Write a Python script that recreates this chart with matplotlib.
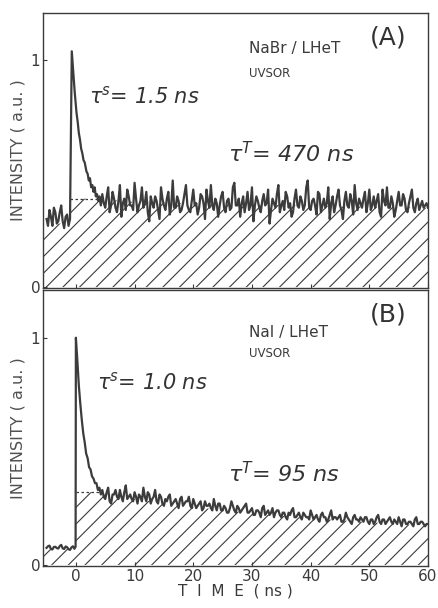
import numpy as np
import matplotlib
matplotlib.use("Agg")
import matplotlib.pyplot as plt

plt.rcParams['font.family'] = ['DejaVu Sans']
plt.rcParams['hatch.linewidth'] = 0.8
plt.rcParams['hatch.color'] = '#333333'

# ---- panel A : NaBr / LHeT ----
a_t = [-5.0, -4.75, -4.5, -4.25, -4.0, -3.75, -3.5, -3.25, -3.0, -2.75, -2.5,
       -2.25, -2.0, -1.75, -1.5, -1.25, -1.0,
       -0.7, -0.4, -0.2, 0.1, 0.3, 0.5, 0.7, 0.9, 1.1, 1.3, 1.5, 1.8,
       2.0, 2.2, 2.4, 2.6, 2.8, 3.0, 3.2, 3.4, 3.6, 3.8, 4.0, 4.25]
a_i = [0.30, 0.27, 0.34, 0.31, 0.27, 0.35, 0.33, 0.28, 0.29, 0.33, 0.36,
       0.29, 0.26, 0.31, 0.32, 0.27, 0.30,
       1.04, 0.93, 0.86, 0.77, 0.73, 0.68, 0.65, 0.61, 0.59, 0.56, 0.55, 0.51,
       0.50, 0.47, 0.48, 0.44, 0.45, 0.42, 0.44, 0.40, 0.41, 0.38, 0.40, 0.36]
a_tail = [
    0.41, 0.35, 0.44, 0.36, 0.39, 0.33, 0.45, 0.37, 0.34, 0.40,
    0.36, 0.46, 0.33, 0.38, 0.35, 0.42, 0.29, 0.37, 0.40, 0.34,
    0.44, 0.36, 0.39, 0.32, 0.47, 0.35, 0.38, 0.34, 0.41, 0.36,
    0.33, 0.43, 0.37, 0.35, 0.40, 0.30, 0.38, 0.45, 0.34, 0.37,
    0.36, 0.42, 0.33, 0.39, 0.35, 0.46, 0.36, 0.31, 0.40, 0.37,
    0.34, 0.44, 0.36, 0.38, 0.33, 0.41, 0.37, 0.28, 0.39, 0.35,
    0.45, 0.36, 0.34, 0.40, 0.37, 0.33, 0.43, 0.35, 0.38, 0.36,
    0.47, 0.34, 0.39, 0.32, 0.41, 0.36, 0.35, 0.44, 0.37, 0.33,
    0.40, 0.36, 0.30, 0.42, 0.35, 0.38, 0.45, 0.34, 0.37, 0.39,
    0.33, 0.43, 0.36, 0.35, 0.41, 0.31, 0.38, 0.44, 0.35, 0.37,
    0.34, 0.42, 0.36, 0.39, 0.33, 0.40, 0.35, 0.37, 0.34, 0.38,
    0.36, 0.35]
a_tail_mid = [
    0.37, 0.40, 0.33, 0.42, 0.35, 0.38, 0.31, 0.39, 0.43, 0.36,
    0.34, 0.39, 0.36, 0.44, 0.37, 0.33, 0.40, 0.35, 0.38, 0.30,
    0.39, 0.34, 0.42, 0.36, 0.35, 0.40, 0.33, 0.37, 0.45, 0.34,
    0.38, 0.36, 0.32, 0.41, 0.37, 0.43, 0.35, 0.36, 0.39, 0.31,
    0.40, 0.35, 0.38, 0.34, 0.44, 0.36, 0.39, 0.37, 0.33, 0.42,
    0.36, 0.29, 0.40, 0.35, 0.38, 0.36, 0.43, 0.34, 0.37, 0.41,
    0.33, 0.38, 0.42, 0.35, 0.31, 0.39, 0.36, 0.40, 0.34, 0.44,
    0.35, 0.38, 0.36, 0.42, 0.33, 0.39, 0.37, 0.30, 0.40, 0.36,
    0.43, 0.34, 0.38, 0.36, 0.41, 0.32, 0.37, 0.39, 0.35, 0.42,
    0.37, 0.34, 0.40, 0.38, 0.33, 0.43, 0.36, 0.35, 0.40, 0.31,
    0.38, 0.36, 0.41, 0.34, 0.37, 0.43, 0.33, 0.39, 0.36, 0.35,
    0.37]
# hatched (triplet) component, A
a_fit_t = [-5.6, -1.0, -1.0, 3.6, 10, 20, 30, 40, 50, 60]
a_fit_i = [0.28, 0.28, 0.39, 0.39, 0.375, 0.37, 0.365, 0.36, 0.355, 0.35]

# ---- panel B : NaI / LHeT ----
b_t = [-5.0, -4.75, -4.5, -4.25, -4.0, -3.75, -3.5, -3.25, -3.0, -2.75, -2.5,
       -2.25, -2.0, -1.75, -1.5, -1.25, -1.0, -0.75, -0.5, -0.25, -0.05,
       0.0, 0.25, 0.5, 0.75, 1.0, 1.25, 1.5, 1.75, 2.0, 2.25, 2.5, 2.75,
       3.0, 3.25, 3.5, 3.75, 4.0, 4.25]
b_i = [0.075, 0.082, 0.085, 0.070, 0.068, 0.079, 0.080, 0.074, 0.072, 0.083, 0.088,
       0.073, 0.070, 0.081, 0.078, 0.069, 0.066, 0.077, 0.082, 0.071, 0.080,
       1.00, 0.90, 0.79, 0.71, 0.64, 0.58, 0.54, 0.49, 0.47, 0.43, 0.42, 0.39,
       0.38, 0.36, 0.36, 0.33, 0.34, 0.31]
b_tail = [
    0.33, 0.29, 0.34, 0.27, 0.31, 0.30, 0.33, 0.28, 0.35, 0.30,
    0.29, 0.32, 0.27, 0.30, 0.34, 0.28, 0.31, 0.29, 0.33, 0.27,
    0.30, 0.26, 0.28, 0.31, 0.27, 0.29, 0.25, 0.30, 0.27, 0.28,
    0.26, 0.29, 0.25, 0.27, 0.24, 0.28, 0.26, 0.25, 0.29, 0.24,
    0.27, 0.24, 0.25, 0.23, 0.28, 0.24, 0.26, 0.23, 0.25, 0.27,
    0.23, 0.25, 0.22, 0.24, 0.21, 0.26, 0.23, 0.22, 0.25, 0.23,
    0.24, 0.21, 0.23, 0.20, 0.22, 0.25, 0.21, 0.23, 0.20, 0.22,
    0.21, 0.24, 0.20, 0.22, 0.19, 0.23, 0.21, 0.20, 0.24, 0.21,
    0.20, 0.22, 0.19, 0.23, 0.20, 0.18, 0.22, 0.20, 0.21, 0.19,
    0.21, 0.18, 0.20, 0.19, 0.22, 0.18, 0.20, 0.19, 0.21, 0.18,
    0.19, 0.21, 0.17, 0.20, 0.18, 0.19, 0.17, 0.21, 0.18, 0.19,
    0.17, 0.18]
b_tail_mid = [
    0.30, 0.32, 0.28, 0.31, 0.33, 0.29, 0.30, 0.32, 0.29, 0.31,
    0.28, 0.30, 0.31, 0.28, 0.30, 0.32, 0.27, 0.30, 0.28, 0.31,
    0.27, 0.29, 0.30, 0.26, 0.28, 0.27, 0.29, 0.26, 0.28, 0.30,
    0.25, 0.27, 0.26, 0.28, 0.25, 0.26, 0.27, 0.24, 0.26, 0.27,
    0.24, 0.26, 0.23, 0.25, 0.26, 0.23, 0.25, 0.24, 0.26, 0.23,
    0.24, 0.22, 0.24, 0.23, 0.25, 0.22, 0.24, 0.23, 0.21, 0.24,
    0.22, 0.23, 0.21, 0.23, 0.24, 0.21, 0.22, 0.21, 0.23, 0.21,
    0.20, 0.22, 0.21, 0.20, 0.22, 0.21, 0.19, 0.22, 0.20, 0.21,
    0.21, 0.19, 0.20, 0.21, 0.19, 0.21, 0.20, 0.19, 0.20, 0.21,
    0.19, 0.20, 0.18, 0.21, 0.19, 0.20, 0.18, 0.20, 0.19, 0.20,
    0.18, 0.19, 0.20, 0.18, 0.19, 0.18, 0.20, 0.18, 0.19, 0.18,
    0.18]
b_fit_t = [-5.6, 0.0, 0.0, 4.5, 10, 20, 30, 40, 50, 60]
b_fit_i = [0.07, 0.07, 0.32, 0.32, 0.29, 0.255, 0.228, 0.205, 0.188, 0.172]

tail_t = np.arange(4.5, 60.01, 0.25)
xticks = [0, 10, 20, 30, 40, 50, 60]

fig = plt.figure(figsize=(4.39, 6.08), dpi=100)
axA = fig.add_axes([0.098, 0.526, 0.877, 0.453])
axB = fig.add_axes([0.098, 0.069, 0.877, 0.454])

ink = '#3a3a3a'


def interleave(main, mid):
    out = np.empty(len(main) + len(mid))
    out[0::2] = main
    out[1::2] = mid
    return out


def panel(ax, t, i, tail, mid, ft, fi, dash_end):
    ax.fill_between(ft, 0, fi, facecolor='none', hatch='//', edgecolor=ink, linewidth=0)
    ax.plot([ft[2], dash_end], [fi[2], fi[2]], ls=(0, (2, 2)), color=ink, lw=0.9)
    ax.plot(list(t) + list(tail_t), list(i) + list(interleave(tail, mid)),
            color='#3c3c3c', lw=1.6)
    ax.set_xlim(-5.6, 60)
    ax.set_ylim(-0.005, 1.21)
    ax.set_yticks([0, 1])
    ax.set_yticklabels(['0', '1'])
    ax.set_xticks(xticks)
    ax.tick_params(direction='in', length=3, width=0.8, colors=ink, labelsize=11, pad=2)
    for s in ax.spines.values():
        s.set_color(ink)
        s.set_linewidth(1.0)
    ax.set_ylabel('INTENSITY ( a.u. )', fontsize=11.5, color='#505050', labelpad=4)


panel(axA, a_t, a_i, a_tail, a_tail_mid, a_fit_t, a_fit_i, 3.6)
panel(axB, b_t, b_i, b_tail, b_tail_mid, b_fit_t, b_fit_i, 4.5)
axA.set_xticklabels([])
axB.set_xlabel('T  I  M  E  ( ns )', fontsize=11, color=ink, labelpad=0)

hand = dict(fontstyle='italic', color='#333333', family='DejaVu Sans')
axA.text(0.945, 0.955, '(A)', transform=axA.transAxes, ha='right', va='top', fontsize=18, color='#333333')
axA.text(0.535, 0.87, 'NaBr / LHeT', transform=axA.transAxes, ha='left', va='center', fontsize=11, color=ink)
axA.text(0.535, 0.78, 'UVSOR', transform=axA.transAxes, ha='left', va='center', fontsize=8.5, color=ink)
axA.text(0.12, 0.695, r'τ$^{s}$= 1.5 ns', transform=axA.transAxes, ha='left', va='center', fontsize=15, **hand)
axA.text(0.48, 0.49, r'τ$^{T}$= 470 ns', transform=axA.transAxes, ha='left', va='center', fontsize=16, **hand)

axB.text(0.945, 0.955, '(B)', transform=axB.transAxes, ha='right', va='top', fontsize=18, color='#333333')
axB.text(0.535, 0.845, 'NaI / LHeT', transform=axB.transAxes, ha='left', va='center', fontsize=11, color=ink)
axB.text(0.535, 0.77, 'UVSOR', transform=axB.transAxes, ha='left', va='center', fontsize=8.5, color=ink)
axB.text(0.14, 0.665, r'τ$^{s}$= 1.0 ns', transform=axB.transAxes, ha='left', va='center', fontsize=15, **hand)
axB.text(0.48, 0.335, r'τ$^{T}$= 95 ns', transform=axB.transAxes, ha='left', va='center', fontsize=16, **hand)

fig.savefig('out.png', dpi=100)
